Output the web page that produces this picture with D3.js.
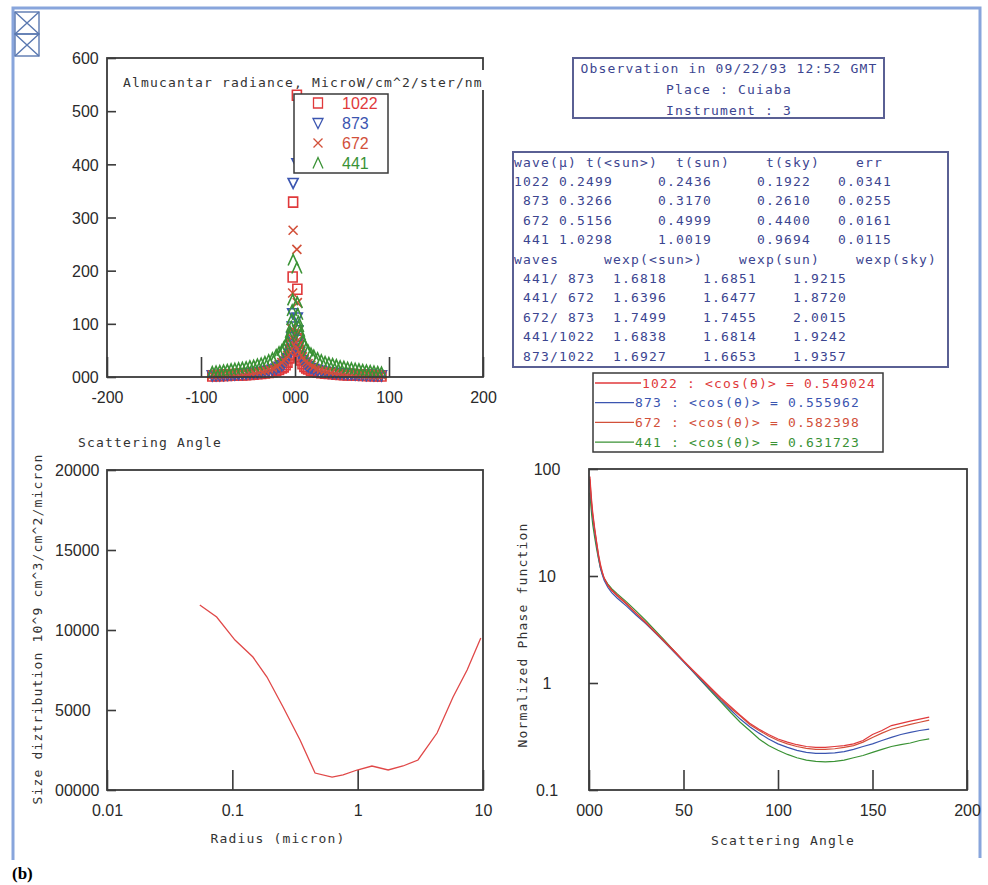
<!DOCTYPE html>
<html>
<head>
<meta charset="utf-8">
<script src="https://cdn.jsdelivr.net/npm/d3@7"></script>
<style>
  body { margin: 0; background: #fff; }
  svg { display: block; }
  .mono { font-family: "DejaVu Sans Mono", monospace; font-size: 13px; letter-spacing: 1.17px; white-space: pre; }
  .tick-label { font-family: "Liberation Sans", Arial, sans-serif; font-size: 16px; fill: #2a2a2a; }
</style>
</head>
<body>
<div id="chart"></div>
<script>
// ---- data ----
const waves = ["1022", "873", "672", "441"];
const waveColors = ["#e0393b", "#3b55b0", "#d2503a", "#3a9235"];

// almucantar radiance (scattering angle in deg, radiance)
const almAngles = [-88, -84, -80, -76, -72, -68, -64, -60, -56, -52, -48, -44, -40, -36, -32, -28, -24, -20,
  -17, -14, -12, -10, -8, -6, -5, -4, -3.5, -3, -2.5, -2,
  2, 2.5, 3, 3.5, 4, 5, 6, 8, 10, 12, 14, 17,
  20, 24, 28, 32, 36, 40, 44, 48, 52, 56, 60, 64, 68, 72, 76, 80, 84, 88, 92];
const alm1022 = [2, 2.5, 2.5, 3, 3, 3.5, 3.5, 4, 4, 4.5, 5, 5.5, 6, 6.5, 7.5, 8.5, 10, 12,
  14, 17, 19, 23, 28, 36, 42, 52, 62, 80, 188, 329,
  530, 165, 72, 58, 48, 38, 32, 25, 20, 17, 15, 12.5,
  11, 9, 8, 7, 6.5, 6, 5.5, 5, 4.5, 4, 4, 3.5, 3.5, 3, 3, 2.5, 2.5, 2, 2];
const alm873 = [3, 3.5, 3.5, 4, 4.5, 5, 5, 5.5, 6, 6.5, 7, 8, 8.5, 9.5, 11, 12, 14, 16,
  19, 22, 25, 29, 35, 44, 51, 62, 75, 95, 120, 365,
  402, 112, 88, 70, 60, 47, 40, 32, 27, 23, 20, 17,
  15, 13, 11, 10, 9, 8, 7.5, 7, 6.5, 6, 5.5, 5, 5, 4.5, 4, 4, 3.5, 3.5, 3];
const alm672 = [4, 4.5, 5, 5.5, 6, 6.5, 7, 7.5, 8, 8.5, 9, 10, 11, 12, 13, 15, 17, 20,
  23, 27, 30, 34, 40, 48, 54, 64, 74, 90, 158, 276,
  240, 140, 85, 70, 60, 51, 45, 38, 32, 28, 25, 22,
  19, 16, 14, 12.5, 11.5, 10.5, 9.5, 8.5, 8, 7.5, 7, 6.5, 6, 5.5, 5, 4.5, 4, 4, 3.5];
const alm441 = [9, 10, 11, 12, 13, 14, 15, 16, 17, 18, 20, 21, 23, 25, 28, 31, 35, 41,
  46, 50, 55, 60, 66, 76, 84, 94, 108, 125, 145, 220,
  205, 140, 118, 104, 95, 86, 79, 68, 60, 54, 49, 44,
  40, 35, 31, 28, 26, 24, 22, 20, 19, 17, 16, 15, 14, 13, 12, 11, 10, 9, 8];
const almSeries = [alm1022, alm873, alm672, alm441];

// observation info
const obsLines = ["Observation in 09/22/93 12:52 GMT", "Place : Cuiaba", "Instrument : 3"];

// optical depth table
const tauHeader = ["wave(μ)", "t(<sun>)", "t(sun)", "t(sky)", "err"];
const tauRows = [
  ["1022", "0.2499", "0.2436", "0.1922", "0.0341"],
  [" 873", "0.3266", "0.3170", "0.2610", "0.0255"],
  [" 672", "0.5156", "0.4999", "0.4400", "0.0161"],
  [" 441", "1.0298", "1.0019", "0.9694", "0.0115"]
];
const wexpHeader = ["waves", "wexp(<sun>)", "wexp(sun)", "wexp(sky)"];
const wexpRows = [
  [" 441/ 873", "1.6818", "1.6851", "1.9215"],
  [" 441/ 672", "1.6396", "1.6477", "1.8720"],
  [" 672/ 873", "1.7499", "1.7455", "2.0015"],
  [" 441/1022", "1.6838", "1.6814", "1.9242"],
  [" 873/1022", "1.6927", "1.6653", "1.9357"]
];
const cosValues = ["0.549024", "0.555962", "0.582398", "0.631723"];

// size distribution (radius micron, dV/dlnr)
const sizeRadius = [0.055, 0.075, 0.105, 0.146, 0.189, 0.254, 0.347, 0.457, 0.625, 0.765, 0.99,
  1.30, 1.75, 2.30, 3.03, 4.30, 5.77, 7.47, 9.6];
const sizeValue = [11560, 10810, 9370, 8310, 7060, 5190, 3125, 1060, 810, 940, 1250,
  1500, 1250, 1500, 1875, 3560, 5810, 7500, 9500];

// phase function (scattering angle, normalized phase)
const phaseAngles = [0.5, 1, 1.5, 2, 3, 4, 5, 6, 7, 8, 10, 12, 15, 20, 25, 30, 35, 40, 45, 50, 55, 60,
  65, 70, 75, 80, 85, 90, 95, 100, 105, 110, 115, 120, 125, 130, 135, 140, 145, 150, 155, 160,
  165, 170, 175, 180];
const phase1022 = [85, 62, 48, 39, 28, 21, 16, 13, 11, 9.6, 8.2, 7.4, 6.6, 5.5, 4.5, 3.7, 3.0, 2.45, 2.0, 1.62,
  1.32, 1.08, 0.88, 0.72, 0.6, 0.5, 0.42, 0.37, 0.33, 0.3, 0.28, 0.265, 0.255, 0.25, 0.25, 0.255, 0.26,
  0.27, 0.29, 0.33, 0.36, 0.4, 0.42, 0.44, 0.46, 0.48];
const phase873 = [75, 55, 43, 35, 26, 19.5, 15, 12, 10.3, 9.1, 7.8, 7.0, 6.2, 5.2, 4.3, 3.6, 2.95, 2.4, 1.95,
  1.58, 1.28, 1.03, 0.84, 0.68, 0.56, 0.46, 0.39, 0.34, 0.3, 0.27, 0.25, 0.235, 0.225, 0.22, 0.22, 0.222,
  0.228, 0.24, 0.255, 0.27, 0.29, 0.31, 0.33, 0.345, 0.36, 0.37];
const phase672 = [80, 58, 45, 37, 27, 20.5, 15.5, 12.5, 10.8, 9.5, 8.1, 7.3, 6.5, 5.4, 4.45, 3.65, 2.98, 2.42,
  1.98, 1.6, 1.3, 1.06, 0.86, 0.7, 0.58, 0.49, 0.41, 0.36, 0.32, 0.29, 0.27, 0.255, 0.245, 0.24, 0.24,
  0.243, 0.25, 0.26, 0.28, 0.31, 0.34, 0.37, 0.39, 0.41, 0.43, 0.45];
const phase441 = [60, 45, 36, 30, 23, 18, 14.5, 12, 10.5, 9.5, 8.4, 7.6, 6.8, 5.7, 4.7, 3.85, 3.1, 2.5, 2.0,
  1.6, 1.28, 1.02, 0.82, 0.66, 0.53, 0.43, 0.36, 0.3, 0.26, 0.235, 0.215, 0.2, 0.19, 0.185, 0.183,
  0.185, 0.19, 0.2, 0.21, 0.225, 0.24, 0.255, 0.265, 0.275, 0.29, 0.3];
const phaseSeries = [phase1022, phase873, phase672, phase441];

// ---- drawing ----
const W = 988, H = 885;
const frameColor = "#3a3a3a";
const navy = "#3c4590";

const svg = d3.select("#chart").append("svg").attr("width", W).attr("height", H);
svg.append("rect").attr("width", W).attr("height", H).attr("fill", "#fff");

// outer applet border
svg.append("path")
  .attr("d", "M13,860V8H980V858")
  .attr("fill", "none").attr("stroke", "#88a5dc").attr("stroke-width", 3);

// broken image icons
[12, 34].forEach(y => {
  const g = svg.append("g").attr("stroke", "#5a78b0").attr("stroke-width", 1.4).attr("fill", "none");
  g.append("rect").attr("x", 15).attr("y", y).attr("width", 24).attr("height", 22);
  g.append("path").attr("d", `M15,${y}L39,${y + 22}M39,${y}L15,${y + 22}`);
});

svg.append("text").attr("x", 12).attr("y", 879)
  .attr("font-family", "Liberation Serif, serif").attr("font-weight", "bold").attr("font-size", 17)
  .text("(b)");

function frame(x0, y0, x1, y1) {
  svg.append("rect").attr("x", x0).attr("y", y0).attr("width", x1 - x0).attr("height", y1 - y0)
    .attr("fill", "none").attr("stroke", frameColor).attr("stroke-width", 1.8);
}

function leftAxis(scale, x, values, fmt, labelX, anchor) {
  const g = svg.append("g").attr("transform", `translate(${x},0)`)
    .call(d3.axisLeft(scale).tickValues(values).tickFormat(fmt).tickSizeInner(-9).tickSizeOuter(0));
  g.select(".domain").remove();
  g.selectAll(".tick line").attr("stroke", frameColor).attr("stroke-width", 1.6);
  g.selectAll(".tick text").attr("class", "tick-label")
    .attr("x", labelX - x).attr("text-anchor", anchor).attr("dy", "0.36em");
  g.attr("font-family", null).attr("font-size", null);
}

function bottomAxis(scale, y, values, fmt, labelY) {
  const g = svg.append("g").attr("transform", `translate(0,${y})`)
    .call(d3.axisBottom(scale).tickValues(values).tickFormat(fmt).tickSizeInner(-20).tickSizeOuter(0));
  g.select(".domain").remove();
  g.selectAll(".tick line").attr("stroke", frameColor).attr("stroke-width", 1.6);
  g.selectAll(".tick text").attr("class", "tick-label").attr("y", labelY - y).attr("dy", "0.36em");
  g.attr("font-family", null).attr("font-size", null);
}

function monoText(x, y, str, color, anchor = "start", rotate = false) {
  const t = svg.append("text").attr("class", "mono").attr("fill", color)
    .attr("xml:space", "preserve")
    .attr("text-anchor", anchor).attr("dy", "0.36em").text(str);
  if (rotate) t.attr("transform", `translate(${x},${y}) rotate(-90)`);
  else t.attr("x", x).attr("y", y);
  return t;
}

// ---- panel A: almucantar ----
const ax = d3.scaleLinear().domain([-200, 200]).range([107, 483]);
const ay = d3.scaleLinear().domain([0, 600]).range([377, 58]);

const markerPaths = [
  "M-4.5,-5H4.5V5H-4.5Z",
  "M-5,-4.5H5L0,5.5Z",
  "M-4.5,-4.5L4.5,4.5M4.5,-4.5L-4.5,4.5",
  "M-5,5.5L0,-5.5L5,5.5"
];

const almData = almSeries.map((vals, i) => vals.map((v, j) => ({ a: almAngles[j], v, i })));
svg.append("g").selectAll("g").data(almData).join("g")
  .attr("stroke", (d, i) => waveColors[i]).attr("fill", "none").attr("stroke-width", 1.6)
  .selectAll("path").data(d => d).join("path")
  .attr("transform", d => `translate(${ax(d.a)},${ay(d.v)})`)
  .attr("d", d => markerPaths[d.i]);

frame(107, 58, 483, 377);
leftAxis(ay, 107, [0, 100, 200, 300, 400, 500, 600], d3.format("03d"), 72, "start");
bottomAxis(ax, 377, [-200, -100, 0, 100, 200], d => d === 0 ? "000" : String(d), 397);

// title (white behind to break frame edge)
svg.append("rect").attr("x", 478).attr("y", 70).attr("width", 10).attr("height", 20).attr("fill", "#fff");
monoText(123, 82, "Almucantar radiance, MicroW/cm^2/ster/nm", "#333");

// legend A
svg.append("rect").attr("x", 294).attr("y", 94).attr("width", 94).attr("height", 79)
  .attr("fill", "#fff").attr("stroke", frameColor).attr("stroke-width", 1.5);
waves.forEach((w, i) => {
  const y = 103 + i * 20;
  svg.append("path").attr("transform", `translate(318,${y})`).attr("d", markerPaths[i])
    .attr("fill", "none").attr("stroke", waveColors[i]).attr("stroke-width", 1.3);
  svg.append("text").attr("class", "tick-label").attr("x", 342).attr("y", y).attr("dy", "0.36em")
    .style("fill", waveColors[i]).text(w);
});

monoText(78, 442, "Scattering Angle", "#333");

// ---- observation box and tables ----
svg.append("rect").attr("x", 573).attr("y", 58).attr("width", 311).attr("height", 60)
  .attr("fill", "none").attr("stroke", "#5a6094").attr("stroke-width", 2);
obsLines.forEach((s, i) => monoText(729, 68 + i * 21, s, navy, "middle"));

svg.append("rect").attr("x", 513).attr("y", 152).attr("width", 435).attr("height", 215)
  .attr("fill", "none").attr("stroke", "#5a6094").attr("stroke-width", 2);
const rowY = i => 162 + i * 19.4;
const tauHeadX = [514, 586, 676, 766, 856];
const tauColX = [514, 559, 658, 757, 838];
tauHeader.forEach((s, j) => monoText(tauHeadX[j], rowY(0), s, navy));
tauRows.forEach((r, i) => r.forEach((s, j) => monoText(tauColX[j], rowY(i + 1), s, navy)));
const wexpHeadX = [514, 604, 739, 856];
const wexpColX = [514, 613, 703, 793];
wexpHeader.forEach((s, j) => monoText(wexpHeadX[j], rowY(5), s, navy));
wexpRows.forEach((r, i) => r.forEach((s, j) => monoText(wexpColX[j], rowY(i + 6), s, navy)));

// cos legend
svg.append("rect").attr("x", 593).attr("y", 373).attr("width", 290).attr("height", 79)
  .attr("fill", "#fff").attr("stroke", frameColor).attr("stroke-width", 1.5);
waves.forEach((w, i) => {
  const y = 383 + i * 19.7;
  const label = `${w} : <cos(θ)> = ${cosValues[i]}`;
  const tx = w.length === 4 ? 642 : 635;
  svg.append("line").attr("x1", 595).attr("x2", tx - 1).attr("y1", y).attr("y2", y)
    .attr("stroke", waveColors[i]).attr("stroke-width", 1.3);
  monoText(tx, y, label, waveColors[i]);
});

// ---- panel B: size distribution ----
const bx = d3.scaleLog().domain([0.01, 10]).range([107, 483]);
const by = d3.scaleLinear().domain([0, 20000]).range([790, 470]);
frame(107, 470, 483, 790);
leftAxis(by, 107, [0, 5000, 10000, 15000, 20000], d => d === 0 ? "00000" : String(d), 55, "start");
bottomAxis(bx, 790, [0.01, 0.1, 1, 10], d => String(d), 810);
svg.append("path").datum(sizeRadius.map((r, i) => [r, sizeValue[i]]))
  .attr("fill", "none").attr("stroke", "#e04848").attr("stroke-width", 1.3)
  .attr("d", d3.line().x(d => bx(d[0])).y(d => by(d[1])));
monoText(37, 629, "Size diztribution 10^9 cm^3/cm^2/micron", "#333", "middle", true);
monoText(278, 838, "Radius (micron)", "#333", "middle");

// ---- panel C: phase function ----
const cx = d3.scaleLinear().domain([0, 200]).range([589, 967]);
const cy = d3.scaleLog().domain([0.1, 100]).range([790, 469]);
const phaseLine = d3.line().x(d => cx(d[0])).y(d => cy(d[1]));
[3, 1, 2, 0].forEach(i => {
  svg.append("path").datum(phaseAngles.map((a, j) => [a, phaseSeries[i][j]]))
    .attr("fill", "none").attr("stroke", waveColors[i]).attr("stroke-width", 1.2)
    .attr("d", phaseLine);
});
frame(589, 469, 967, 790);
leftAxis(cy, 589, [0.1, 1, 10, 100], d => String(d), 547, "middle");
bottomAxis(cx, 790, [0, 50, 100, 150, 200], d => d === 0 ? "000" : String(d), 810);
monoText(522, 635, "Normalized Phase function", "#333", "middle", true);
monoText(783, 840, "Scattering Angle", "#333", "middle");
</script>
</body>
</html>
